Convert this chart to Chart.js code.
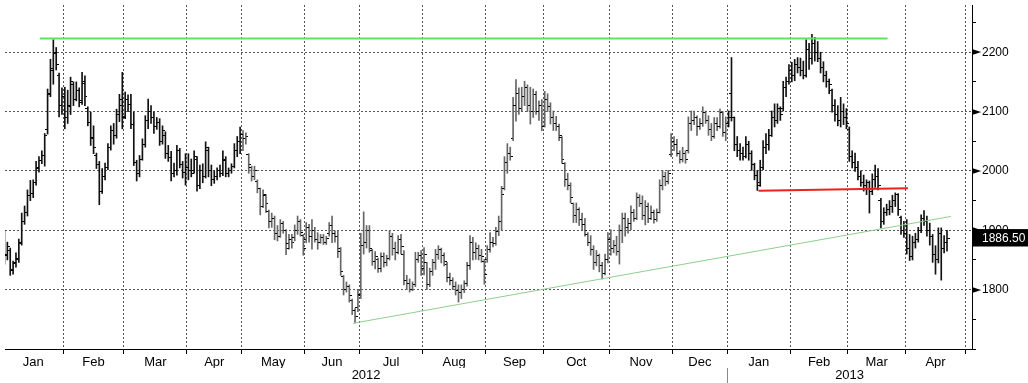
<!DOCTYPE html>
<html>
<head>
<meta charset="utf-8">
<script src="https://cdn.jsdelivr.net/npm/chart.js@4.4.1/dist/chart.umd.min.js"></script>
<style>
  html, body { margin: 0; padding: 0; background: #fff; }
  #wrap { width: 1028px; height: 383px; position: relative; }
</style>
</head>
<body>
<div id="wrap"><canvas id="grafico"></canvas></div>
<script>
// months on the axis and trading days in each (Jan 2012 .. Apr 2013)
const months = ['Jan', 'Feb', 'Mar', 'Apr', 'May', 'Jun', 'Jul', 'Aug', 'Sep', 'Oct', 'Nov', 'Dec', 'Jan', 'Feb', 'Mar', 'Apr'];
const tradingDays = [21, 21, 22, 19, 22, 19, 22, 22, 20, 23, 22, 19, 22, 20, 20, 21];
const years = ['2012', '2013'];
const monthsPerYear = [12, 4];

// daily bars, one value per trading day
const opens = [
  1880,1860,1866,1834,1844,1852,1880,1914,1930,1958,1962,1980,2004,2018,2026,2070,2130,2172,2198,2160,2110,
  2125,2090,2110,2145,2120,2135,2118,2148,2105,2082,2056,2026,2010,1965,1990,2005,2040,2068,2060,2095,2110,
  2092,2120,2112,2078,2015,1995,2020,2045,2085,2100,2090,2075,2082,2050,2060,2030,2022,1995,2000,2035,2010,1998,
  2005,2000,2000,2020,1975,2000,1990,2035,2000,1985,1990,2000,1996,2018,1995,2000,2008,2035,2050,
  2062,2055,2028,2005,1990,1982,1970,1940,1958,1932,1915,1920,1895,1890,1912,1900,1878,1885,1888,1900,1915,1892,
  1885,1905,1890,1900,1885,1880,1888,1880,1895,1908,1895,1890,1865,1822,1800,1805,1782,1765,1770,
  1792,1875,1880,1900,1866,1848,1850,1835,1855,1845,1852,1890,1870,1862,1885,1860,1815,1810,1800,1808,1850,1858,
  1835,1845,1808,1830,1845,1860,1868,1858,1842,1820,1815,1805,1798,1795,1800,1810,1840,1880,1862,1870,1858,1848,
  1850,1868,1880,1878,1898,1915,1970,2015,2030,2055,2110,2130,2105,2125,2140,2110,2100,2128,2100,2110,
  2075,2120,2108,2090,2080,2075,2056,2012,1985,1975,1945,1925,1935,1918,1910,1893,1880,1868,1845,1858,1840,1828,1850,
  1885,1870,1875,1865,1900,1920,1905,1912,1930,1920,1955,1945,1925,1940,1920,1930,1918,1930,1975,1990,1982,2028,
  2050,2045,2030,2020,2030,2035,2080,2085,2090,2075,2080,2098,2085,2070,2058,2080,2075,2098,2065,
  2080,2130,2090,2045,2035,2030,2025,2045,2030,2010,1992,1980,2005,2040,2045,2060,2090,2085,2105,2105,2140,2150,
  2170,2160,2180,2175,2170,2160,2205,2190,2215,2200,2190,2175,2160,2150,2135,2110,2095,2085,2100,2090,
  2070,2025,2015,2005,1990,1980,1975,1980,1965,1985,1990,1950,1915,1930,1935,1940,1950,1960,1922,1900,
  1895,1870,1855,1880,1885,1900,1920,1915,1900,1890,1860,1850,1895,1870,1880
];
const highs = [
  1900,1880,1870,1848,1862,1885,1929,1941,1968,1984,1985,2016,2024,2034,2063,2138,2188,2221,2208,2165,2140,
  2141,2136,2158,2150,2150,2140,2166,2160,2108,2099,2076,2030,2016,2004,2013,2046,2076,2080,2104,2129,2166,
  2133,2128,2129,2099,2018,2026,2054,2093,2121,2110,2099,2090,2088,2076,2066,2043,2033,2013,2043,2038,2016,2029,
  2029,2020,2034,2024,2010,2012,2049,2040,2010,2000,2005,2010,2034,2024,2005,2012,2046,2058,2074,
  2068,2064,2029,2008,2008,1985,1971,1968,1960,1934,1929,1924,1908,1918,1915,1901,1893,1893,1909,1924,1918,1893,
  1913,1910,1918,1905,1896,1893,1893,1890,1913,1924,1899,1899,1871,1824,1813,1808,1784,1768,1799,
  1895,1931,1908,1908,1868,1864,1853,1862,1862,1858,1899,1895,1880,1891,1893,1866,1824,1818,1813,1863,1863,1866,
  1871,1846,1836,1851,1868,1874,1870,1862,1846,1828,1820,1813,1808,1808,1815,1846,1891,1888,1879,1875,1868,1851,
  1874,1896,1888,1905,1924,1974,2024,2046,2040,2124,2154,2140,2141,2151,2145,2141,2138,2134,2118,2120,
  2134,2130,2115,2101,2092,2079,2058,2014,1996,1980,1946,1946,1938,1929,1920,1896,1891,1874,1866,1860,1846,1860,1896,
  1901,1883,1890,1909,1929,1929,1920,1941,1935,1963,1960,1958,1950,1946,1941,1934,1936,1985,2001,1998,2001,2063,
  2058,2053,2034,2040,2034,2091,2101,2101,2093,2088,2108,2101,2093,2080,2090,2090,2104,2100,2091,
  2101,2191,2091,2058,2046,2040,2058,2050,2034,2013,2001,2018,2051,2063,2070,2101,2113,2113,2108,2151,2158,2179,
  2183,2188,2191,2190,2185,2221,2215,2230,2225,2218,2200,2184,2168,2155,2138,2120,2110,2124,2113,2105,
  2074,2034,2030,2016,2000,1993,1985,1983,1995,2010,2004,1954,1938,1944,1950,1959,1963,1962,1924,1915,
  1918,1893,1890,1895,1905,1926,1933,1924,1912,1893,1874,1904,1904,1891,1900
];
const lows = [
  1843,1850,1824,1826,1838,1846,1875,1910,1924,1950,1955,1976,1998,2012,2008,2062,2125,2146,2170,2091,2095,
  2071,2080,2095,2110,2118,2108,2112,2110,2076,2043,2029,2004,1943,1962,1985,2002,2035,2045,2055,2083,2071,
  2088,2100,2071,2009,1983,1990,2018,2040,2071,2080,2063,2070,2043,2045,2021,2016,1983,1990,1993,2005,1988,1976,
  1985,1990,1996,1966,1970,1980,1988,1990,1975,1979,1985,1990,1992,1990,1990,1996,2005,2024,2029,
  2034,2045,1996,1983,1985,1963,1926,1938,1930,1904,1905,1884,1882,1888,1895,1859,1868,1870,1882,1893,1890,1858,
  1879,1880,1868,1880,1868,1878,1876,1876,1890,1879,1880,1854,1824,1791,1796,1779,1758,1744,1763,
  1785,1860,1870,1863,1841,1835,1829,1830,1838,1840,1850,1858,1850,1860,1860,1808,1800,1796,1798,1805,1846,1824,
  1825,1800,1805,1824,1834,1851,1845,1840,1813,1808,1800,1791,1779,1785,1795,1806,1834,1850,1851,1850,1846,1809,
  1846,1863,1872,1875,1891,1901,1968,1996,2018,2051,2084,2095,2101,2110,2100,2079,2090,2095,2085,2068,
  2074,2100,2079,2068,2068,2051,2013,1974,1968,1946,1913,1913,1908,1901,1890,1874,1858,1834,1840,1830,1818,1825,1845,
  1858,1862,1858,1843,1879,1890,1895,1901,1915,1918,1940,1918,1909,1913,1918,1912,1915,1929,1968,1975,1978,2024,
  2034,2025,2013,2015,2013,2030,2068,2078,2060,2070,2075,2080,2060,2051,2055,2068,2072,2058,2051,
  2074,2084,2034,2024,2018,2018,2022,2018,2001,1985,1967,1974,2002,2029,2035,2058,2074,2080,2085,2101,2125,2146,
  2150,2152,2165,2160,2155,2158,2171,2180,2185,2184,2165,2150,2141,2130,2099,2084,2076,2074,2078,2071,
  2016,2005,1999,1985,1974,1966,1960,1929,1960,1972,1968,1904,1910,1925,1926,1930,1940,1925,1893,1888,
  1860,1849,1850,1870,1880,1896,1908,1890,1875,1846,1826,1845,1816,1862,1865
];
const closes = [
  1858,1872,1832,1845,1850,1878,1915,1930,1958,1962,1980,2005,2018,2026,2060,2128,2170,2200,2180,2110,2125,
  2090,2108,2150,2120,2135,2115,2150,2125,2082,2055,2040,2010,1965,1990,2005,2040,2068,2060,2095,2120,2090,
  2120,2112,2078,2015,1995,2020,2045,2085,2100,2090,2075,2082,2050,2068,2030,2022,1995,2000,2035,2010,1998,2005,
  2000,1995,2025,1975,2000,1990,2040,2000,1985,1990,2000,1996,2020,1995,2000,2008,2035,2050,2062,
  2055,2058,2010,1990,2000,1970,1940,1960,1945,1915,1920,1895,1890,1912,1900,1870,1885,1880,1900,1915,1896,1870,
  1905,1890,1900,1885,1880,1888,1880,1886,1908,1895,1890,1870,1830,1800,1805,1790,1765,1755,1790,
  1875,1880,1900,1870,1848,1855,1835,1855,1845,1852,1890,1870,1862,1885,1872,1815,1810,1800,1808,1850,1858,1835,
  1860,1808,1830,1845,1860,1868,1858,1848,1820,1815,1805,1798,1795,1800,1810,1840,1880,1862,1870,1858,1855,1825,
  1868,1880,1878,1898,1915,1960,2015,2030,2025,2110,2130,2105,2125,2140,2110,2100,2128,2100,2110,2075,
  2120,2108,2090,2080,2075,2060,2020,1985,1975,1955,1925,1935,1918,1910,1900,1880,1868,1845,1858,1840,1828,1850,1885,
  1870,1875,1865,1900,1920,1905,1912,1930,1920,1955,1945,1925,1940,1920,1930,1918,1930,1975,1990,1982,1995,2050,
  2045,2030,2020,2030,2020,2080,2085,2090,2075,2080,2098,2085,2070,2058,2080,2075,2098,2065,2080,
  2090,2090,2045,2035,2030,2025,2045,2030,2010,1992,1975,2005,2040,2045,2060,2090,2085,2105,2095,2140,2150,2170,
  2160,2180,2175,2170,2160,2205,2190,2215,2200,2190,2175,2160,2150,2145,2110,2095,2085,2100,2090,2080,
  2025,2015,2005,1990,1980,1975,1980,1965,1985,1990,1975,1915,1930,1935,1940,1950,1960,1935,1900,1895,
  1870,1855,1880,1885,1900,1920,1915,1900,1890,1860,1850,1895,1870,1880,1886.5
];
const lastPrice = 1886.5;

// drawn lines, [trading day, price]
const topLine = [[12.3, 2223], [307.3, 2223]];
const redLine = [[262.4, 1966.7], [314.4, 1970.7]];
const trendLine = [[121.3, 1743.3], [329.3, 1923.3]];

const priceTicks = [1700, 1750, 1800, 1850, 1900, 1950, 2000, 2050, 2100, 2150, 2200, 2250];
const labelledPrices = [1800, 1900, 2000, 2100, 2200];

// month edges and centres, in trading-day units
const monthEdges = [];
const monthMids = [];
let start = -0.5;
tradingDays.forEach(d => {
  monthMids.push(start + d / 2);
  start += d;
  monthEdges.push(start);
});
const xMin = 0.18, xMax = 336.7;
const yearEdge = monthEdges[monthsPerYear[0] - 1];
const yearMids = [(xMin + yearEdge) / 2, (yearEdge + xMax) / 2];

function tickImage(side) {
  const c = document.createElement('canvas');
  c.width = 5;
  c.height = 1;
  const g = c.getContext('2d');
  g.fillStyle = '#000';
  g.fillRect(side === 'left' ? 0 : 3, 0, 2, 1);
  return c;
}

const toPoints = arr => arr.map(p => ({ x: p[0], y: p[1] }));
const isLast = c => !!(c.tick && c.tick.value === lastPrice && !c.tick.arrow);

Chart.defaults.font.family = "'Liberation Sans', Arial, sans-serif";

new Chart(document.getElementById('grafico').getContext('2d'), {
  type: 'line',
  data: {
    datasets: [
      {
        data: toPoints(topLine), xAxisID: 'x', borderColor: '#5ee35e', borderWidth: 2,
        pointRadius: 0, order: 0
      },
      {
        data: toPoints(redLine), xAxisID: 'x', borderColor: '#ee2020', borderWidth: 2,
        pointRadius: 0, order: 0
      },
      {
        data: toPoints(trendLine), xAxisID: 'x', borderColor: '#8fcf8f', borderWidth: 1,
        pointRadius: 0, order: 0
      },
      {
        data: opens.map((v, i) => ({ x: i, y: v })), xAxisID: 'x', showLine: false,
        pointStyle: tickImage('left'), pointRadius: 2, order: 1
      },
      {
        data: closes.map((v, i) => ({ x: i, y: v })), xAxisID: 'x', showLine: false,
        pointStyle: tickImage('right'), pointRadius: 2, order: 1
      },
      {
        type: 'bar',
        data: highs.map((h, i) => ({ x: i, y: [lows[i], h] })), xAxisID: 'x',
        backgroundColor: c => (c.dataIndex >= 83 && c.dataIndex < 252) ? '#666' : '#111',
        barThickness: 1, grouped: false, order: 2
      }
    ]
  },
  options: {
    responsive: true,
    maintainAspectRatio: false,
    animation: false,
    layout: { padding: 0 },
    plugins: { legend: { display: false }, tooltip: { enabled: false } },
    scales: {
      x: {
        type: 'linear', position: 'bottom', min: xMin, max: xMax, bounds: 'data', offset: false, weight: 0,
        grid: { display: true, drawOnChartArea: true, drawTicks: true, tickLength: 5, offset: false, color: '#555', tickColor: '#000' },
        border: { display: true, color: '#000', width: 1, dash: [2, 2] },
        ticks: { display: false },
        afterBuildTicks: s => { s.ticks = monthEdges.map(v => ({ value: v })); },
        afterFit: s => { s.height = 5; s.paddingLeft = 0; s.paddingRight = 0; }
      },
      xm: {
        type: 'linear', position: 'bottom', min: xMin, max: xMax, bounds: 'data', offset: false, weight: 1,
        grid: { display: false, drawTicks: false, offset: false },
        border: { display: false },
        ticks: {
          autoSkip: false, maxRotation: 0, padding: 1, color: '#000', font: { size: 13 },
          callback: (v, i) => months[i]
        },
        afterBuildTicks: s => { s.ticks = monthMids.map(v => ({ value: v })); },
        afterFit: s => { s.height = 14; s.paddingLeft = 0; s.paddingRight = 0; }
      },
      xy: {
        type: 'linear', position: 'bottom', min: xMin, max: xMax, bounds: 'data', offset: false, weight: 2,
        grid: {
          display: true, drawOnChartArea: false, drawTicks: true, tickLength: 15, offset: false,
          color: 'rgba(0,0,0,0)',
          tickColor: c => (c.tick && c.tick.value === yearEdge) ? '#888' : 'rgba(0,0,0,0)'
        },
        border: { display: false },
        ticks: {
          autoSkip: false, maxRotation: 0, padding: -15, color: '#000', font: { size: 13 },
          callback: (v, i) => (i === 0 ? years[0] : i === 2 ? years[1] : '')
        },
        afterBuildTicks: s => { s.ticks = [{ value: yearMids[0] }, { value: yearEdge }, { value: yearMids[1] }]; },
        afterFit: s => { s.height = 15; s.paddingLeft = 0; s.paddingRight = 0; }
      },
      y: {
        type: 'linear', position: 'right', min: 1700, max: 2279.5, bounds: 'data',
        grid: {
          drawTicks: true, tickLength: 4,
          color: c => (c.tick && !c.tick.arrow && c.tick.value % 100 === 0 && c.tick.value > 1700) ? '#555' : 'rgba(0,0,0,0)',
          tickColor: c => (c.tick && (c.tick.arrow || c.tick.value === lastPrice)) ? 'rgba(0,0,0,0)' : '#000'
        },
        border: { display: true, color: '#000', width: 1, dash: [2, 2] },
        ticks: {
          autoSkip: false, padding: -4,
          font: c => (c.tick && c.tick.arrow) ? { family: "'DejaVu Sans'", size: 12 } : { size: 12 },
          color: c => isLast(c) ? '#fff' : '#000',
          showLabelBackdrop: c => isLast(c),
          backdropColor: '#000',
          backdropPadding: { top: 2, bottom: 1, left: 0, right: 4 },
          callback: (v, i, ticks) => {
            if (ticks[i].arrow) return '\u25BA';
            if (v === lastPrice) return '   ' + v.toFixed(2);
            if (labelledPrices.includes(v)) return '   ' + v;
            return '';
          }
        },
        afterBuildTicks: s => {
          s.ticks = priceTicks.map(v => ({ value: v }))
            .concat(labelledPrices.map(v => ({ value: v, arrow: true })))
            .concat([{ value: lastPrice }]);
        },
        afterFit: s => { s.width = 56; s.paddingTop = 0; s.paddingBottom = 0; }
      }
    }
  }
});
</script>
</body>
</html>
